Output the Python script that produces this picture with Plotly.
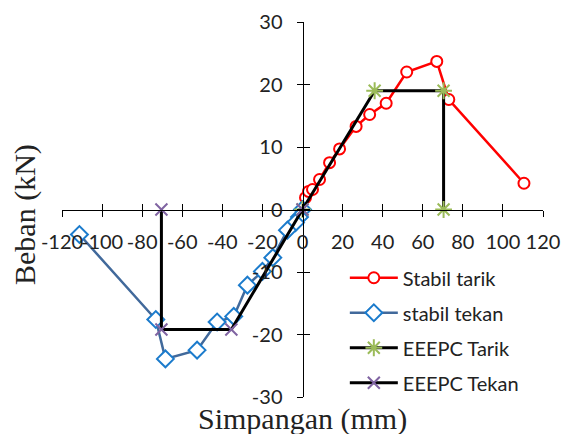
import plotly.graph_objects as go

# Stabil tarik (tension)
tarik_x = [0, 1.5, 3, 5, 8.5, 13.5, 18.5, 26.75, 33.5, 41.75, 52, 67, 73, 110.5]
tarik_y = [0, 1.9, 2.9, 3.2, 4.8, 7.5, 9.7, 13.3, 15.2, 17.0, 22.0, 23.7, 17.6, 4.2]

# stabil tekan (compression)
tekan_x = [0, -1.5, -3.5, -7.5, -14.8, -20, -27.5, -34.3, -42.6, -52.6, -68.4, -73.2, -111.3]
tekan_y = [0, -1.2, -2.1, -3.3, -7.7, -9.9, -12.1, -17.1, -18.0, -22.5, -23.9, -17.6, -4.0]

# EEEPC bilinear curves
eeepc_tarik_x = [0, 36, 70.4, 70.4]
eeepc_tarik_y = [0, 19, 19, 0]
eeepc_tekan_x = [0, -35.5, -70.4, -70.4]
eeepc_tekan_y = [0, -19.2, -19.2, 0]

x_ticks = [-120, -100, -80, -60, -40, -20, 0, 20, 40, 60, 80, 100, 120]
x_labels = ["-120", "-100", "-80", "-60", "-40", "-20", "0", "20", "40", "60", "80", "100", "120"]
y_ticks = [-30, -20, -10, 0, 10, 20, 30]
y_labels = ["-30", "-20", "-10", "0", "10", "20", "30"]

tick_font = dict(family="Lato", size=20, color="#222222")

fig = go.Figure()
fig.add_trace(go.Scatter(x=tarik_x, y=tarik_y, mode="lines+markers", name="Stabil tarik",
                         line=dict(color="#FF0000", width=2.5),
                         marker=dict(symbol="circle", size=11, color="white",
                                     line=dict(color="#FF0000", width=2)),
                         legendgroup="a"))
fig.add_trace(go.Scatter(x=tekan_x, y=tekan_y, mode="lines+markers", name="stabil tekan",
                         line=dict(color="#41699B", width=2.5),
                         marker=dict(symbol="diamond", size=13, color="white",
                                     line=dict(color="#1B7BCC", width=2)),
                         legendgroup="b"))
fig.add_trace(go.Scatter(x=eeepc_tarik_x, y=eeepc_tarik_y, mode="lines+markers", name="EEEPC Tarik",
                         line=dict(color="black", width=3),
                         marker=dict(symbol="asterisk-open", size=14, color="#9BBB59",
                                     line=dict(color="#9BBB59", width=2)),
                         legendgroup="c"))
fig.add_trace(go.Scatter(x=eeepc_tekan_x, y=eeepc_tekan_y, mode="lines+markers", name="EEEPC Tekan",
                         line=dict(color="black", width=3),
                         marker=dict(symbol="x-thin-open", size=12, color="#8064A2",
                                     line=dict(color="#8064A2", width=2)),
                         legendgroup="d"))

common_x = dict(range=[-120, 120], tickvals=x_ticks, showgrid=False, zeroline=False,
                showline=True, linecolor="black", linewidth=1,
                anchor="free", position=0.5, tickcolor="black", ticklen=6)
common_y = dict(range=[-30, 30], tickvals=y_ticks, showgrid=False, zeroline=False,
                showline=True, linecolor="black", linewidth=1,
                anchor="free", position=0.5, tickcolor="black", ticklen=6)

fig.update_layout(
    width=561, height=434,
    margin=dict(l=62, r=18, t=22, b=37, autoexpand=False),
    plot_bgcolor="white", paper_bgcolor="white",
    xaxis=dict(**common_x, ticks="outside", ticktext=x_labels, tickangle=0,
               ticklabelstandoff=8, tickfont=tick_font),
    yaxis=dict(**common_y, ticks="outside", ticktext=y_labels,
               ticklabelstandoff=10, tickfont=tick_font),
    xaxis2=dict(**common_x, ticks="inside", showticklabels=False, overlaying="x"),
    yaxis2=dict(**common_y, ticks="inside", showticklabels=False, overlaying="y"),
    showlegend=True,
    legend=dict(x=0.588, y=0.37, xanchor="left", yanchor="top",
                bgcolor="rgba(0,0,0,0)", font=dict(family="Lato", size=20, color="#222222"),
                traceorder="grouped", tracegroupgap=6, itemwidth=48),
    annotations=[
        dict(text="Simpangan (mm)", x=0.5, y=-0.058, xref="paper", yref="paper",
             xanchor="center", yanchor="middle", showarrow=False,
             font=dict(family="Liberation Serif", size=30, color="#222222")),
        dict(text="Beban (kN)", x=-0.077, y=0.488, xref="paper", yref="paper",
             xanchor="center", yanchor="middle", showarrow=False, textangle=-90,
             font=dict(family="Liberation Serif", size=30, color="#222222")),
    ],
)
fig.add_trace(go.Scatter(x=[], y=[], xaxis="x2", yaxis="y2", showlegend=False, hoverinfo="skip"))

fig.write_html("out.html")
